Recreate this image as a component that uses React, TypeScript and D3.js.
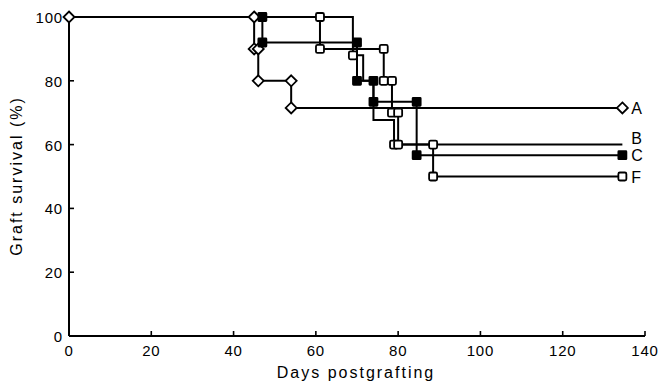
import React from "react";
import * as d3 from "d3";

const W = 660;
const H = 388;

const xTicks = [0, 20, 40, 60, 80, 100, 120, 140];
const yTicks = [0, 20, 40, 60, 80, 100];
const xTitle = "Days postgrafting";
const yTitle = "Graft survival (%)";
const endDay = 134.5;

// Step events: day of drop and survival after the drop
const aDays = [45, 46, 54];
const aValues = [90, 80, 71.5];
const bDays = [69, 71.5, 74, 79];
const bValues = [88, 80, 67.7, 60];
const cDays = [47, 70, 74, 84.5];
const cValues = [92, 80, 73.4, 56.7];
const fDays = [61, 76.5, 78.5, 80, 88.5];
const fValues = [90, 80, 70, 60, 50];
// Series B only shows symbols at a few of its steps
const bMarked: [number, number][] = [
  [69, 88],
  [79, 60],
];

type Series = {
  name: string;
  days: number[];
  values: number[];
  marker: "diamond" | "open" | "filled";
  start: boolean;
  end: boolean;
  labelDy: number;
  marked?: [number, number][];
};

const series: Series[] = [
  { name: "B", days: bDays, values: bValues, marker: "open", start: false, end: false, labelDy: -7, marked: bMarked },
  { name: "F", days: fDays, values: fValues, marker: "open", start: false, end: true, labelDy: 0 },
  { name: "C", days: cDays, values: cValues, marker: "filled", start: false, end: true, labelDy: 0 },
  { name: "A", days: aDays, values: aValues, marker: "diamond", start: true, end: true, labelDy: 0 },
];

const x = d3.scaleLinear().domain([0, 140]).range([69, 645]);
const y = d3.scaleLinear().domain([0, 100]).range([336, 17]);

const font = "'Liberation Sans', Arial, sans-serif";

function pathPoints(s: Series): [number, number][] {
  const pts: [number, number][] = [[0, 100]];
  s.days.forEach((d, i) => pts.push([d, s.values[i]]));
  pts.push([endDay, s.values[s.values.length - 1]]);
  return pts;
}

function markerPoints(s: Series): [number, number][] {
  if (s.marked) return s.marked;
  const pts: [number, number][] = [];
  if (s.start) pts.push([0, 100]);
  let prev = 100;
  s.days.forEach((d, i) => {
    pts.push([d, prev]);
    pts.push([d, s.values[i]]);
    prev = s.values[i];
  });
  if (s.end) pts.push([endDay, prev]);
  return pts;
}

function Marker({ kind, cx, cy }: { kind: string; cx: number; cy: number }) {
  if (kind === "diamond") {
    const r = 5.5;
    return (
      <path
        d={`M${cx},${cy - r}L${cx + r},${cy}L${cx},${cy + r}L${cx - r},${cy}Z`}
        fill="#fff"
        stroke="#000"
        strokeWidth={1.8}
      />
    );
  }
  const s = 8;
  return (
    <rect
      x={cx - s / 2}
      y={cy - s / 2}
      width={s}
      height={s}
      rx={kind === "open" ? 1.5 : 0.5}
      fill={kind === "filled" ? "#000" : "#fff"}
      stroke="#000"
      strokeWidth={1.8}
    />
  );
}

export default function App() {
  const line = d3
    .line<[number, number]>()
    .x((d) => x(d[0]))
    .y((d) => y(d[1]))
    .curve(d3.curveStepAfter);

  const order = ["open", "diamond", "filled"];

  return (
    <svg
      width={W}
      height={H}
      style={{ position: "absolute", left: 0, top: 0, background: "#fff" }}
      fontFamily={font}
    >
      <rect width={W} height={H} fill="#fff" />
      {/* axes */}
      <line x1={x(0)} x2={x(140)} y1={y(0)} y2={y(0)} stroke="#000" strokeWidth={2} />
      <line x1={x(0)} x2={x(0)} y1={y(0)} y2={y(100)} stroke="#000" strokeWidth={2} />
      {xTicks.map((t) => (
        <g key={"xt" + t}>
          <line x1={x(t)} x2={x(t)} y1={y(0)} y2={y(0) - 5} stroke="#000" strokeWidth={1.6} />
          <text x={x(t)} y={y(0) + 20} textAnchor="middle" fontSize={15} letterSpacing={0.8}>
            {t}
          </text>
        </g>
      ))}
      {yTicks.map((t) => (
        <g key={"yt" + t}>
          <line x1={x(0)} x2={x(0) + 5} y1={y(t)} y2={y(t)} stroke="#000" strokeWidth={1.6} />
          <text x={x(0) - 6} y={y(t) + 6} textAnchor="end" fontSize={15} letterSpacing={0.8}>
            {t}
          </text>
        </g>
      ))}
      <text x={356} y={378} textAnchor="middle" fontSize={16} letterSpacing={2}>
        {xTitle}
      </text>
      <text
        transform={`translate(22,176) rotate(-90)`}
        textAnchor="middle"
        fontSize={16}
        letterSpacing={2}
      >
        {yTitle}
      </text>
      {/* survival curves */}
      {series.map((s) => (
        <path key={"l" + s.name} d={line(pathPoints(s)) || ""} fill="none" stroke="#000" strokeWidth={2} />
      ))}
      {order.map((kind) =>
        series
          .filter((s) => s.marker === kind)
          .map((s) =>
            markerPoints(s).map((p, i) => (
              <Marker key={s.name + i} kind={s.marker} cx={x(p[0])} cy={y(p[1])} />
            ))
          )
      )}
      {series.map((s) => (
        <text
          key={"lab" + s.name}
          x={x(endDay) + 9}
          y={y(s.values[s.values.length - 1]) + 6 + s.labelDy}
          fontSize={16}
        >
          {s.name}
        </text>
      ))}
    </svg>
  );
}
